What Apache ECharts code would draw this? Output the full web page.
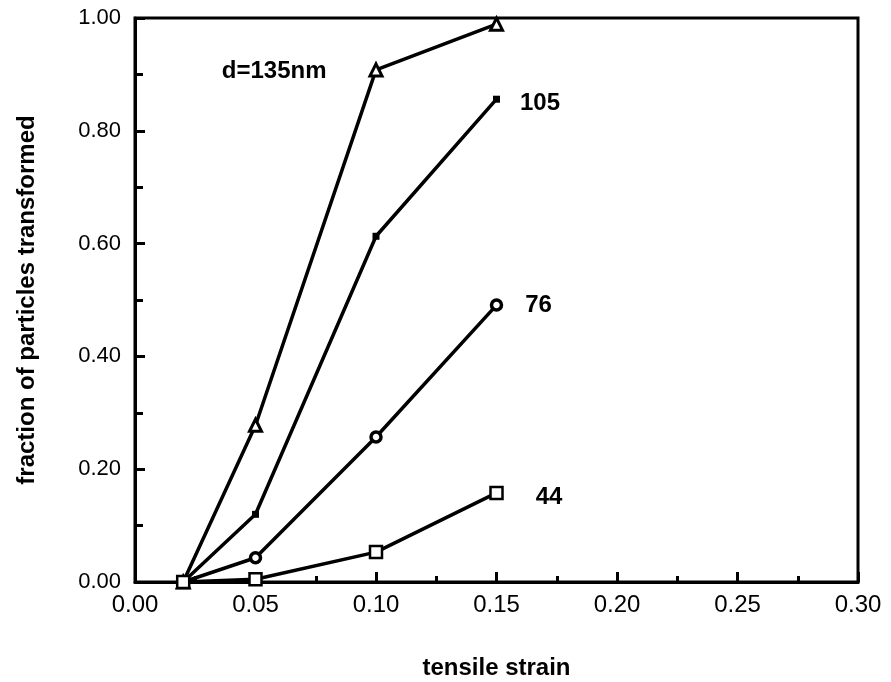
<!DOCTYPE html>
<html>
<head>
<meta charset="utf-8">
<script src="https://cdn.jsdelivr.net/npm/echarts@6/dist/echarts.min.js"></script>
<style>
  html, body { margin: 0; padding: 0; background: #fff; }
  #chart { width: 891px; height: 682px; }
</style>
</head>
<body>
<div id="chart"></div>
<script>
// Tensile strain levels (x) and transformed fraction for each particle diameter
const strain = [0.02, 0.05, 0.10, 0.15];
const d135 = [0, 0.278, 0.908, 0.989];
const d105 = [0, 0.12, 0.613, 0.856];
const d76 = [0, 0.043, 0.257, 0.491];
const d44 = [0, 0.005, 0.053, 0.158];
const seriesNames = ['d=135nm', '105', '76', '44'];

const FONT = '"Liberation Sans", Arial, Helvetica, sans-serif';

function pairs(ys) {
  return strain.map((x, i) => [x, ys[i]]);
}

// attach a text tag to one point of a series
function tagged(ys, idx, text, pos, dist, dy) {
  const pts = pairs(ys);
  pts[idx] = {
    value: pts[idx],
    label: {
      show: true, formatter: text, position: pos, distance: dist,
      offset: [0, dy], color: '#000', fontFamily: FONT,
      fontWeight: 'bold', fontSize: 24
    }
  };
  return pts;
}

const lineBase = {
  type: 'line',
  lineStyle: { color: '#000', width: 3.5 },
  itemStyle: { color: '#fff', borderColor: '#000', borderWidth: 3 },
  z: 3,
  animation: false
};

const chart = echarts.init(document.getElementById('chart'));
chart.setOption({
  backgroundColor: '#fff',
  animation: false,
  grid: {
    left: 135, right: 33, top: 18, bottom: 100,
    outerBoundsMode: 'none', containLabel: false,
    show: true, borderColor: '#000', borderWidth: 3, backgroundColor: 'transparent'
  },
  xAxis: {
    type: 'value', min: 0, max: 0.3, interval: 0.05,
    name: 'tensile strain', nameLocation: 'middle', nameGap: 74,
    nameTextStyle: { fontFamily: FONT, fontWeight: 'bold', fontSize: 24, color: '#000' },
    axisLine: { lineStyle: { color: '#000', width: 3 } },
    axisTick: { inside: true, length: 10, lineStyle: { color: '#000', width: 3 } },
    minorTick: { show: true, splitNumber: 2, length: 6, lineStyle: { color: '#000', width: 3 } },
    splitLine: { show: false },
    axisLabel: {
      formatter: v => v.toFixed(2), margin: 11,
      fontFamily: FONT, fontSize: 24, color: '#000'
    }
  },
  yAxis: {
    type: 'value', min: 0, max: 1, interval: 0.2,
    name: 'fraction of particles transformed', nameLocation: 'middle', nameGap: 96,
    nameTextStyle: { fontFamily: FONT, fontWeight: 'bold', fontSize: 24, color: '#000' },
    axisLine: { lineStyle: { color: '#000', width: 3 } },
    axisTick: { inside: true, length: 10, lineStyle: { color: '#000', width: 3 } },
    minorTick: { show: true, splitNumber: 2, length: 8, lineStyle: { color: '#000', width: 3 } },
    splitLine: { show: false },
    axisLabel: {
      formatter: v => v.toFixed(2), margin: 14,
      fontFamily: FONT, fontSize: 22, color: '#000'
    }
  },
  series: [
    Object.assign({}, lineBase, {
      name: seriesNames[0], symbol: 'triangle', symbolSize: 12,
      data: tagged(d135, 2, seriesNames[0], 'left', 42, 1)
    }),
    Object.assign({}, lineBase, {
      name: seriesNames[1], symbol: 'rect', symbolSize: 7,
      itemStyle: { color: '#000', borderColor: '#000', borderWidth: 0 },
      data: tagged(d105, 3, seriesNames[1], 'right', 20, 4)
    }),
    Object.assign({}, lineBase, {
      name: seriesNames[2], symbol: 'circle', symbolSize: 10,
      itemStyle: { color: '#fff', borderColor: '#000', borderWidth: 3.5 },
      data: tagged(d76, 3, seriesNames[2], 'right', 22, 0)
    }),
    Object.assign({}, lineBase, {
      name: seriesNames[3], symbol: 'rect', symbolSize: 12,
      itemStyle: { color: '#fff', borderColor: '#000', borderWidth: 2.5 },
      data: tagged(d44, 3, seriesNames[3], 'right', 32, 4)
    })
  ]
});
</script>
</body>
</html>
